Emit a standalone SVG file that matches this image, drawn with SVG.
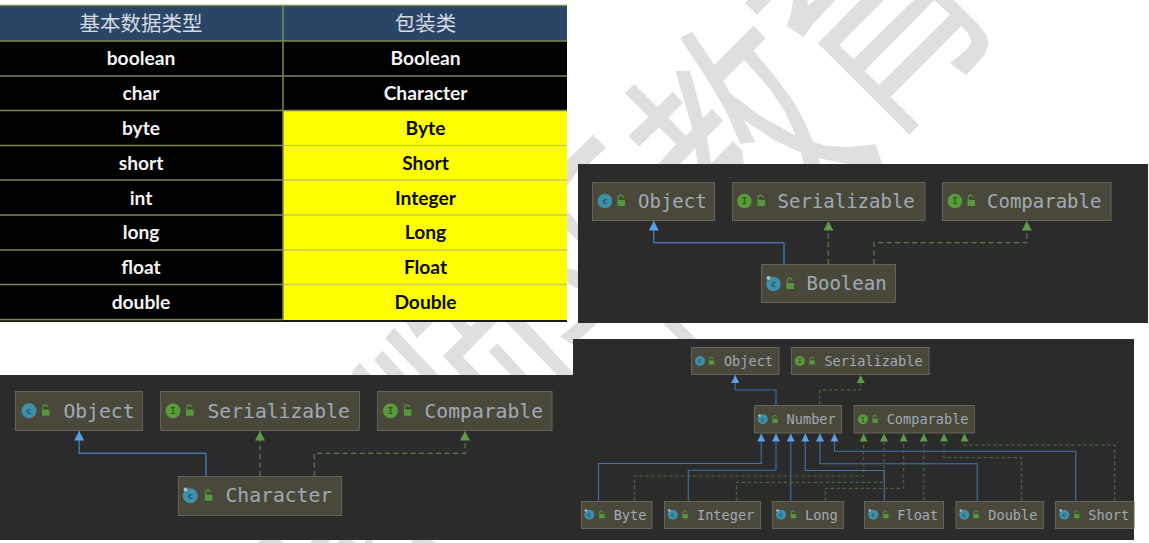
<svg xmlns="http://www.w3.org/2000/svg" width="1149" height="543" viewBox="0 0 1149 543">
<style>
.wm{fill:#dfdfdf;fill-rule:evenodd}
.panel{fill:#2b2b2b}
.box{fill:#4a483b;stroke:#65645a;stroke-width:1}
.lbl{font-family:"DejaVu Sans Mono","Liberation Mono",monospace;fill:#a0abb6}
.a{font-size:19px}.b{font-size:19.7px}.c{font-size:13.6px}
.cc{fill:#3d8faa}.ci{fill:#5a9a3c}
.ic{font-family:"DejaVu Sans Mono",monospace;text-anchor:middle;font-weight:700}
.ict{fill:#1e5566}.ici{fill:#2f5a1f}
.pin{fill:#b4bcc0}
.ext{fill:none;stroke:#4274a8;stroke-width:1.1}
.imp{fill:none;stroke:#4a7341;stroke-width:1;stroke-dasharray:3.5 2.5}
.ext.big{stroke-width:1.5}.imp.big{stroke-width:1.5;stroke-dasharray:5 3.5}
.cell{font-family:Lato,Carlito,"Liberation Sans",sans-serif;font-weight:700;font-size:19.2px;text-anchor:middle}
.w{fill:#f4f4f4}.k{fill:#0a0a00}
.hd{font-family:"Noto Sans CJK SC",sans-serif;font-size:20.5px;text-anchor:middle;fill:#d5dce3}
.rl{stroke:#7b8a4e;stroke-width:1.5}.ry{stroke:#c6cc55;stroke-width:1.5}
</style>
<defs>
<g id="lk"><rect x="-2.6" y="-0.6" width="5.4" height="4.2" fill="#55993c"/><path d="M-2,-0.6v-1.6a1.7,1.7 0 0 1 3.4,0" fill="none" stroke="#55993c" stroke-width="1"/></g>
<g id="lk2"><rect x="-3.5" y="-1" width="7.5" height="6" fill="#55993c"/><path d="M-2.8,-1v-2.4a2.4,2.4 0 0 1 4.8,0" fill="none" stroke="#55993c" stroke-width="1.2"/></g>
<marker id="hbS" markerUnits="userSpaceOnUse" markerWidth="8" markerHeight="8" refX="7.5" refY="3.75" orient="auto" viewBox="0 0 7.5 7.5"><path d="M0,0L7.5,3.75L0,7.5z" fill="#5a9fe8"/></marker>
<marker id="hgS" markerUnits="userSpaceOnUse" markerWidth="8" markerHeight="8" refX="7.5" refY="3.75" orient="auto" viewBox="0 0 7.5 7.5"><path d="M0,0L7.5,3.75L0,7.5z" fill="#5d9b4b"/></marker>
<marker id="hbL" markerUnits="userSpaceOnUse" markerWidth="10" markerHeight="10" refX="9" refY="4.75" orient="auto" viewBox="0 0 9 9.5"><path d="M0,0L9,4.75L0,9.5z" fill="#5a9fe8"/></marker>
<marker id="hgL" markerUnits="userSpaceOnUse" markerWidth="10" markerHeight="10" refX="9" refY="4.75" orient="auto" viewBox="0 0 9 9.5"><path d="M0,0L9,4.75L0,9.5z" fill="#5d9b4b"/></marker>
</defs>
<rect width="1149" height="543" fill="#fff"/>
<g id="watermark">
<g transform="translate(565 0) scale(.3731 .3333)">
<polygon class="wm" points="482,10 515,44 553,0 490,0"/>
<polygon class="wm" points="612,0 605,45 593,78 640,112 660,78 725,0 670,0 650,18 650,0"/>
<polygon class="wm" points="678,130 792,0 855,0 735,135 773,178 935,0 990,0 803,212 842,255 1032,44 990,0 1043,0 1105,70 1130,105 1135,130 1125,165 1075,226 1032,190 1075,150 1090,125 1080,100 1062,78 873,290 949,375 923,404"/>
<path class="wm" d="M308,114L341,95L400,195L505,77L538,115L505,152L560,225L610,300L640,360L665,425L700,437L760,441L833,433L851,495L770,495L680,475L684,495L640,495L633,458L560,420L480,360L510,426L470,431L430,330L380,235ZM480,180L424,242L443,280L520,345L618,407L590,335L545,260Z"/>
<polygon class="wm" points="160,280 185,252 248,322 288,275 317,308 277,353 324,407 342,388 296,213 335,212 370,355 394,327 424,362 380,410 392,490 450,423 475,452 480,495 355,495 350,445 305,495 248,495 298,433 252,382 198,440 170,408 224,350"/>
<polygon class="wm" points="5,482 75,404 110,443 60,495 5,495"/>
</g>
<g transform="translate(0 315) scale(.5102 .3333)">
<polygon class="wm" points="690,170 705,143 730,185 690,185"/>
<polygon class="wm" points="733,135 750,107 797,185 762,185"/>
<polygon class="wm" points="755,70 772,38 862,185 828,185"/>
<polygon class="wm" points="795,20 850,20 817,70"/>
<polygon class="wm" points="868,122 907,65 880,18 910,18 922,35 935,18 975,18 907,125 945,185 905,185"/>
<polygon class="wm" points="958,110 975,85 1035,185 1005,185"/>
<polygon class="wm" points="990,18 1030,18 1130,185 1095,185"/>
<polygon class="wm" points="1098,65 1135,18 1175,18 1123,90"/>
<polygon class="wm" points="1295,18 1330,18 1370,80 1335,80"/>
</g>
<polygon class="wm" points="567,160 590,140 590,170 578,170 567,186"/>
<polygon class="wm" points="567,210 578,224 578,241 567,230"/>
<polygon class="wm" points="567,268 578,271 578,289 567,283"/>
<polygon class="wm" points="258,543 261,540 280,540 283,543"/>
<polygon class="wm" points="310,543 313,540 330,540 328,543"/>
<polygon class="wm" points="337,543 340,540 350,540 357,543"/>
<polygon class="wm" points="365,543 365,540 372,540 373,543"/>
<polygon class="wm" points="412,543 412,540 430,540 437,543"/>
</g>
<g id="table">
<rect x="0" y="5" width="567" height="36" fill="#2a4565"/>
<rect x="0" y="41" width="567" height="281" fill="#000"/>
<rect x="283" y="111" width="284" height="209" fill="#ff0"/>
<rect x="0" y="320" width="567" height="2" fill="#1a1a12"/>
<line class="rl" x1="0" y1="5.5" x2="567" y2="5.5"/>
<line class="rl" x1="0" y1="41" x2="567" y2="41"/>
<line class="rl" x1="0" y1="76" x2="567" y2="76"/>
<line class="rl" x1="0" y1="110.5" x2="567" y2="110.5"/>
<line class="rl" x1="0" y1="145.5" x2="283" y2="145.5"/>
<line class="rl" x1="0" y1="180" x2="283" y2="180"/>
<line class="rl" x1="0" y1="215" x2="283" y2="215"/>
<line class="rl" x1="0" y1="250" x2="283" y2="250"/>
<line class="rl" x1="0" y1="284.5" x2="283" y2="284.5"/>
<line class="rl" x1="0" y1="319.5" x2="283" y2="319.5"/>
<line class="ry" x1="283" y1="145.5" x2="567" y2="145.5"/>
<line class="ry" x1="283" y1="180" x2="567" y2="180"/>
<line class="ry" x1="283" y1="215" x2="567" y2="215"/>
<line class="ry" x1="283" y1="250" x2="567" y2="250"/>
<line class="ry" x1="283" y1="284.5" x2="567" y2="284.5"/>
<line class="rl" x1="283" y1="5" x2="283" y2="320" stroke-width="1"/>
<text class="hd" x="141" y="31">基本数据类型</text>
<text class="hd" x="425.500" y="31">包装类</text>
<text class="cell w" x="141" y="65">boolean</text><text class="cell w" x="425.500" y="65">Boolean</text>
<text class="cell w" x="141" y="100">char</text><text class="cell w" x="425.500" y="100">Character</text>
<text class="cell w" x="141" y="135">byte</text><text class="cell k" x="425.500" y="135">Byte</text>
<text class="cell w" x="141" y="170">short</text><text class="cell k" x="425.500" y="170">Short</text>
<text class="cell w" x="141" y="205">int</text><text class="cell k" x="425.500" y="205">Integer</text>
<text class="cell w" x="141" y="239">long</text><text class="cell k" x="425.500" y="239">Long</text>
<text class="cell w" x="141" y="274">float</text><text class="cell k" x="425.500" y="274">Float</text>
<text class="cell w" x="141" y="309">double</text><text class="cell k" x="425.500" y="309">Double</text>
</g>
<rect class="panel" x="578" y="164" width="570" height="159"/>
<rect class="panel" x="0" y="375" width="573" height="165"/>
<rect class="panel" x="573" y="339" width="561" height="201"/>
<g id="connectors">
<path class="ext big" d="M784,264V242.700H653.800V221" marker-end="url(#hbL)"/>
<path class="imp big" d="M828.400,264V221" marker-end="url(#hgL)"/>
<path class="imp big" d="M873.900,264V242.700H1026.800V221" marker-end="url(#hgL)"/>
<path class="ext big" d="M206,476V453.300H79.200V431" marker-end="url(#hbL)"/>
<path class="imp big" d="M260,476V431" marker-end="url(#hgL)"/>
<path class="imp big" d="M314.300,476V453.300H465V431" marker-end="url(#hgL)"/>
<path class="ext" d="M776,405V390H735.200V375" marker-end="url(#hbS)"/>
<path class="imp" d="M819.600,405V390H860.700V375" marker-end="url(#hgS)"/>
<path class="ext" d="M598.500,501V463.500H761.300V433.500" marker-end="url(#hbS)"/>
<path class="ext" d="M688.300,501V470.300H776V433.500" marker-end="url(#hbS)"/>
<path class="ext" d="M790.700,501V433.500" marker-end="url(#hbS)"/>
<path class="ext" d="M884.300,501V470.500H805.300V433.500" marker-end="url(#hbS)"/>
<path class="ext" d="M977.300,501V463.700H820V433.500" marker-end="url(#hbS)"/>
<path class="ext" d="M1075.700,501V451.300H834.500V433.500" marker-end="url(#hbS)"/>
<path class="imp" d="M634.300,501V476H863.700V433.500" marker-end="url(#hgS)"/>
<path class="imp" d="M736.300,501V482.300H884V433.500" marker-end="url(#hgS)"/>
<path class="imp" d="M825.300,501V488.300H903.700V433.500" marker-end="url(#hgS)"/>
<path class="imp" d="M923.800,501V433.500" marker-end="url(#hgS)"/>
<path class="imp" d="M1021.700,501V457.700H944V433.500" marker-end="url(#hgS)"/>
<path class="imp" d="M1114.700,501V445H964.500V433.500" marker-end="url(#hgS)"/>
</g>
<g id="tr-object"><rect class="box" x="592.500" y="182.500" width="122" height="38"/><circle class="cc" cx="605" cy="201" r="7.300"/><text class="ic ict" x="605" y="204" font-size="9">c</text><use href="#lk2" x="621" y="201"/><text class="lbl a" x="638" y="208">Object</text></g>
<g id="tr-serializable"><rect class="box" x="732.500" y="182.500" width="192.500" height="38"/><circle class="ci" cx="744.400" cy="201" r="7.300"/><text class="ic ici" x="744.400" y="204" font-size="9">I</text><use href="#lk2" x="761" y="201"/><text class="lbl a" x="777.500" y="208">Serializable</text></g>
<g id="tr-comparable"><rect class="box" x="942.500" y="182.500" width="168.500" height="38"/><circle class="ci" cx="954.900" cy="201" r="7.300"/><text class="ic ici" x="954.900" y="204" font-size="9">I</text><use href="#lk2" x="971" y="201"/><text class="lbl a" x="987" y="208">Comparable</text></g>
<g id="tr-boolean"><rect class="box" x="761.500" y="264.500" width="134" height="38"/><circle class="cc" cx="773.400" cy="284" r="7.300"/><circle class="pin" cx="768.500" cy="278" r="2"/><text class="ic ict" x="773.400" y="287" font-size="9">c</text><use href="#lk2" x="790" y="284"/><text class="lbl a" x="806.500" y="290">Boolean</text></g>
<g id="bl-object"><rect class="box" x="15.500" y="391.500" width="127" height="39"/><circle class="cc" cx="29" cy="410.700" r="7.500"/><text class="ic ict" x="29" y="414" font-size="9">c</text><use href="#lk2" x="45.500" y="410.700"/><text class="lbl b" x="63.400" y="418">Object</text></g>
<g id="bl-serializable"><rect class="box" x="160.500" y="391.500" width="199" height="39"/><circle class="ci" cx="173" cy="410.700" r="7.500"/><text class="ic ici" x="173" y="414" font-size="9">I</text><use href="#lk2" x="189.600" y="410.700"/><text class="lbl b" x="207.500" y="418">Serializable</text></g>
<g id="bl-comparable"><rect class="box" x="377.500" y="391.500" width="174.500" height="39"/><circle class="ci" cx="390.500" cy="410.700" r="7.500"/><text class="ic ici" x="390.500" y="414" font-size="9">I</text><use href="#lk2" x="407.400" y="410.700"/><text class="lbl b" x="424.500" y="418">Comparable</text></g>
<g id="bl-character"><rect class="box" x="178.500" y="476.500" width="163" height="39"/><circle class="cc" cx="190.300" cy="495.700" r="7.500"/><circle class="pin" cx="185.500" cy="489.500" r="2"/><text class="ic ict" x="190.300" y="499" font-size="9">c</text><use href="#lk2" x="208.300" y="495.700"/><text class="lbl b" x="225.500" y="502">Character</text></g>
<g id="br-object"><rect class="box" x="691.500" y="347.500" width="87.500" height="27"/><circle class="cc" cx="700" cy="361" r="5"/><text class="ic ict" x="700" y="363.300" font-size="6.500">c</text><use href="#lk" x="711.400" y="361"/><text class="lbl c" x="723.900" y="366">Object</text></g>
<g id="br-serializable"><rect class="box" x="791.500" y="347.500" width="137.500" height="27"/><circle class="ci" cx="799.800" cy="361" r="5"/><text class="ic ici" x="799.800" y="363.300" font-size="6.500">I</text><use href="#lk" x="811.900" y="361"/><text class="lbl c" x="824.400" y="366">Serializable</text></g>
<g id="br-number"><rect class="box" x="754.500" y="405.500" width="87" height="27.500"/><circle class="cc" cx="762.800" cy="419.300" r="5"/><circle class="pin" cx="759.500" cy="415.500" r="1.300"/><text class="ic ict" x="762.800" y="421.600" font-size="6.500">c</text><use href="#lk" x="774.900" y="419.300"/><text class="lbl c" x="786.600" y="424">Number</text></g>
<g id="br-comparable"><rect class="box" x="854" y="405.500" width="120.500" height="27.500"/><circle class="ci" cx="862.900" cy="419.300" r="5"/><text class="ic ici" x="862.900" y="421.600" font-size="6.500">I</text><use href="#lk" x="875" y="419.300"/><text class="lbl c" x="886.700" y="424">Comparable</text></g>
<g id="br-byte"><rect class="box" x="581.500" y="501.500" width="70.500" height="27"/><circle class="cc" cx="589.300" cy="514.700" r="5"/><circle class="pin" cx="585.800" cy="510.500" r="1.300"/><text class="ic ict" x="589.300" y="517" font-size="6.500">c</text><use href="#lk" x="601.700" y="514.700"/><text class="lbl c" x="613.700" y="519.500">Byte</text></g>
<g id="br-integer"><rect class="box" x="664.500" y="501.500" width="96" height="27"/><circle class="cc" cx="672.700" cy="514.700" r="5"/><circle class="pin" cx="669.200" cy="510.500" r="1.300"/><text class="ic ict" x="672.700" y="517" font-size="6.500">c</text><use href="#lk" x="685" y="514.700"/><text class="lbl c" x="697" y="519.500">Integer</text></g>
<g id="br-long"><rect class="box" x="772.500" y="501.500" width="71" height="27"/><circle class="cc" cx="781" cy="514.700" r="5"/><circle class="pin" cx="777.500" cy="510.500" r="1.300"/><text class="ic ict" x="781" y="517" font-size="6.500">c</text><use href="#lk" x="793.300" y="514.700"/><text class="lbl c" x="805" y="519.500">Long</text></g>
<g id="br-float"><rect class="box" x="864.500" y="501.500" width="79" height="27"/><circle class="cc" cx="873.300" cy="514.700" r="5"/><circle class="pin" cx="869.800" cy="510.500" r="1.300"/><text class="ic ict" x="873.300" y="517" font-size="6.500">c</text><use href="#lk" x="885.700" y="514.700"/><text class="lbl c" x="897.300" y="519.500">Float</text></g>
<g id="br-double"><rect class="box" x="956" y="501.500" width="87.500" height="27"/><circle class="cc" cx="964.300" cy="514.700" r="5"/><circle class="pin" cx="960.800" cy="510.500" r="1.300"/><text class="ic ict" x="964.300" y="517" font-size="6.500">c</text><use href="#lk" x="976" y="514.700"/><text class="lbl c" x="988.300" y="519.500">Double</text></g>
<g id="br-short"><rect class="box" x="1055.500" y="501.500" width="78.500" height="27"/><circle class="cc" cx="1064.300" cy="514.700" r="5"/><circle class="pin" cx="1060.800" cy="510.500" r="1.300"/><text class="ic ict" x="1064.300" y="517" font-size="6.500">c</text><use href="#lk" x="1076.700" y="514.700"/><text class="lbl c" x="1088.300" y="519.500">Short</text></g>
</svg>
